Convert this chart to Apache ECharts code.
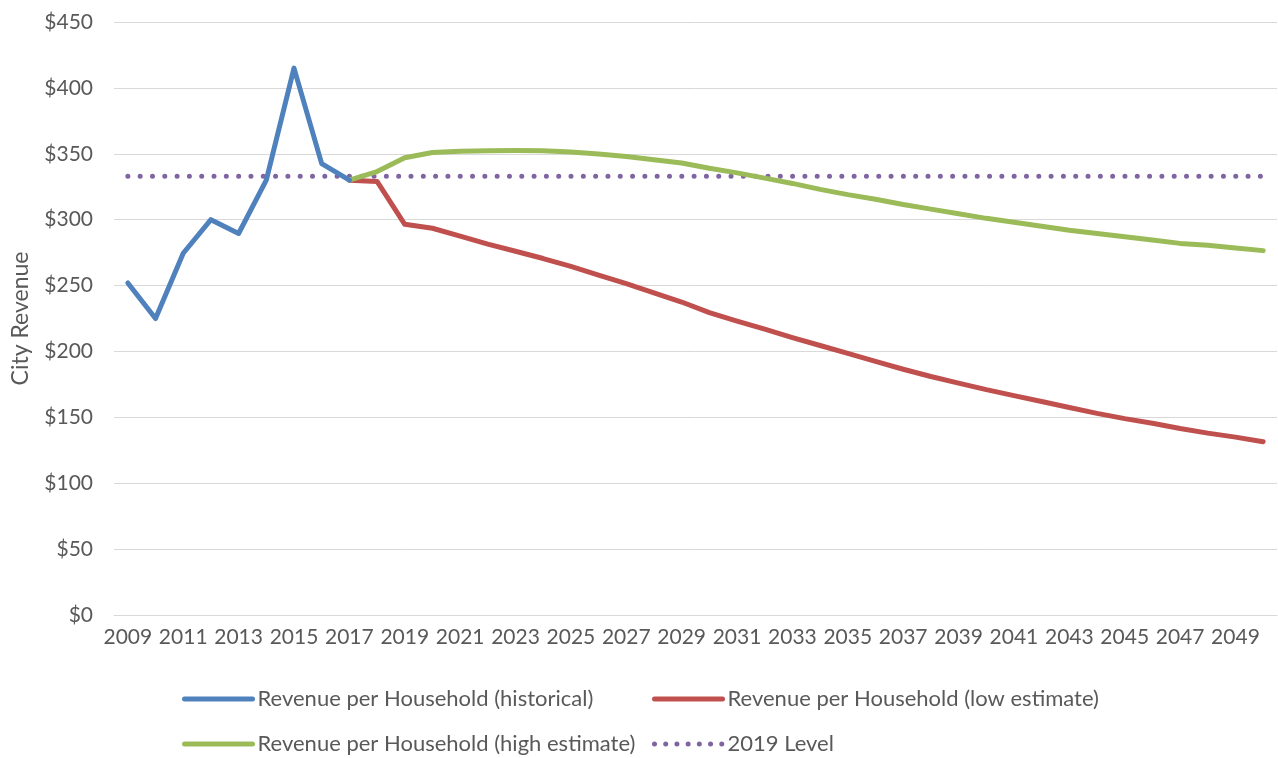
<!DOCTYPE html>
<html>
<head>
<meta charset="utf-8">
<script src="https://cdn.jsdelivr.net/npm/echarts@6/dist/echarts.min.js"></script>
<style>html,body{margin:0;padding:0;background:#fff}#c{width:1278px;height:758px}</style>
</head>
<body>
<div id="c"></div>
<script>
const years = [];
for (let y = 2009; y <= 2050; y++) years.push(String(y));

const yTicks = [0, 50, 100, 150, 200, 250, 300, 350, 400, 450];

const historical = [252, 225, 274.5, 300, 289.5, 330, 415, 342.5, 330];

const lowEstimate = [330, 329, 296.5, 293.5, 287.5, 281.5, 276, 270.5, 264.5, 258, 251.5, 244.5, 237.5, 229.5,
  223, 217, 210.5, 204.5, 198.5, 192.5, 186.5, 181, 176, 171, 166.5, 162, 157.5, 153, 149, 145.5, 141.5, 138, 135, 131.5];

const highEstimate = [330, 336.5, 347, 351, 352, 352.3, 352.5, 352.3, 351.3, 349.8, 348, 345.5, 343, 339,
  335.5, 331.5, 327.5, 323, 319, 315.5, 311.5, 308, 304.5, 301, 298, 295, 292, 289.5, 287, 284.5, 282, 280.5, 278.5, 276.5];

const level2019 = 333;

const names = ['Revenue per Household (historical)', 'Revenue per Household (low estimate)',
  'Revenue per Household (high estimate)', '2019 Level'];

const pad = (arr, startIdx) => years.map((_, i) => (i >= startIdx && i - startIdx < arr.length) ? arr[i - startIdx] : null);

const FONT = 'Lato';
const TXT = '#595959';

const chart = echarts.init(document.getElementById('c'));
const legendBase = {
  orient: 'horizontal', itemWidth: 68, itemHeight: 14, padding: 0,
  textStyle: { color: TXT, fontFamily: FONT, fontSize: 22 },
  itemStyle: { opacity: 0 },
  lineStyle: { width: 5, cap: 'round' },
  selectedMode: false
};
chart.setOption({
  animation: false,
  textStyle: { fontFamily: FONT },
  grid: { left: 114, right: 1, top: 22, bottom: 143, containLabel: false },
  legend: [
    Object.assign({}, legendBase, { data: [names[0]], left: 182, top: 688 }),
    Object.assign({}, legendBase, { data: [names[1]], left: 652, top: 688 }),
    Object.assign({}, legendBase, { data: [names[2]], left: 182, top: 733 }),
    Object.assign({}, legendBase, { data: [names[3]], left: 652, top: 733, lineStyle: { width: 5, cap: 'round', type: [0.01, 11.2] } })
  ],
  xAxis: {
    type: 'category', data: years, boundaryGap: true,
    axisLine: { show: true, lineStyle: { color: '#D9D9D9', width: 1 } },
    axisTick: { show: false },
    axisLabel: { interval: 1, color: TXT, fontFamily: FONT, fontSize: 21, margin: 12 }
  },
  yAxis: {
    type: 'value', min: yTicks[0], max: yTicks[yTicks.length - 1], interval: 50,
    name: 'City Revenue', nameLocation: 'middle', nameGap: 82, nameRotate: 90,
    nameTextStyle: { color: TXT, fontFamily: FONT, fontSize: 23 },
    axisLine: { show: false }, axisTick: { show: false },
    splitLine: { lineStyle: { color: '#D9D9D9', width: 1 } },
    axisLabel: { color: TXT, fontFamily: FONT, fontSize: 21, margin: 21, formatter: v => '$' + v }
  },
  series: [
    { name: names[0], type: 'line', data: pad(historical, 0), symbol: 'none', color: '#4F81BD',
      lineStyle: { width: 5, color: '#4F81BD', cap: 'round', join: 'round' }, z: 3 },
    { name: names[1], type: 'line', data: pad(lowEstimate, 8), symbol: 'none', color: '#C0504D',
      lineStyle: { width: 5, color: '#C0504D', cap: 'round', join: 'round' }, z: 2 },
    { name: names[2], type: 'line', data: pad(highEstimate, 8), symbol: 'none', color: '#9BBB59',
      lineStyle: { width: 5, color: '#9BBB59', cap: 'round', join: 'round' }, z: 2 },
    { name: names[3], type: 'line', data: years.map(() => level2019), symbol: 'none', color: '#8064A2',
      lineStyle: { width: 5, color: '#8064A2', type: [0.01, 12.3], cap: 'round' }, z: 1 }
  ]
});
</script>
</body>
</html>
